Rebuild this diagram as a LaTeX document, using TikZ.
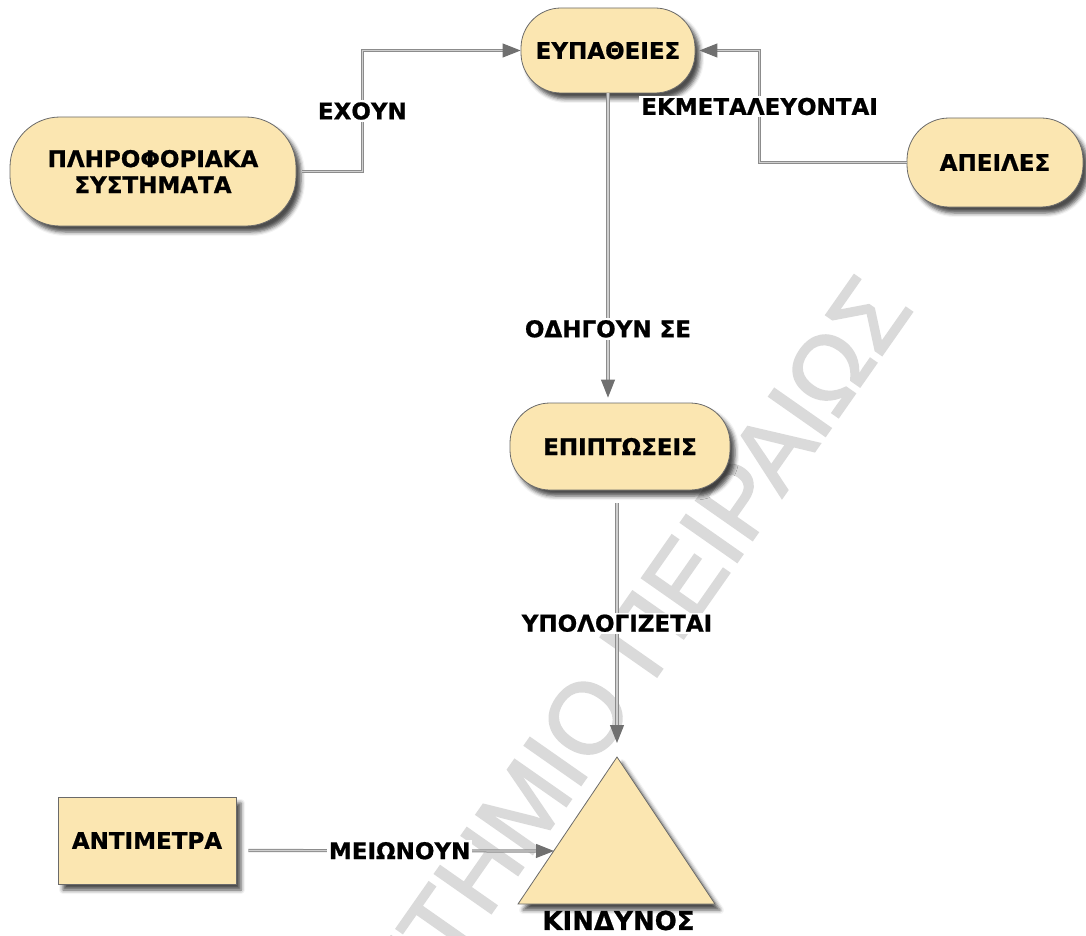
\documentclass[tikz,border=0pt]{standalone}
\usepackage{fontspec}
\setmainfont{DejaVu Sans}[BoldFeatures={FakeBold=0.8}]
\newfontfamily\wmfont[FakeBold=2]{Liberation Sans}
\usetikzlibrary{arrows.meta,shadows,shadows.blur,calc}
\definecolor{nodefill}{HTML}{FBE6B1}
\definecolor{nodeline}{HTML}{6A6A6A}
\definecolor{connout}{HTML}{8C8C8C}
\definecolor{connin}{HTML}{CFCFCF}
\definecolor{tipcol}{HTML}{707070}
\definecolor{wmcol}{HTML}{DADADA}
\begin{document}
\begin{tikzpicture}[x=1pt,y=-1pt,
  every node/.style={font=\fontsize{23}{26}\selectfont\bfseries},
  nshadow/.style={blur shadow={shadow xshift=5pt, shadow yshift=-6pt, shadow blur radius=4pt, shadow opacity=70}},
  term/.style={rectangle, fill=nodefill, draw=nodeline, line width=0.8pt, inner sep=0pt, align=center, nshadow},
  conn/.style={draw=connout, double=connin, double distance=1.2pt, line width=1pt,
    -{Triangle[length=18pt,width=14pt,color=tipcol]}},
  lbl/.style={fill=white, inner sep=2pt},
]
\useasboundingbox (0,0) rectangle (1086,936);
% watermark
\begin{scope}
\clip (0,0) rectangle (1086,936);
\node[rotate=55, anchor=base east, text=wmcol, inner sep=0pt,
  font=\wmfont\fontsize{100}{100}\selectfont] (wm) at (914.5,308.7) {ΠΑΝΕΠΙΣΤΗΜΙΟ ΠΕΙΡΑΙΩΣ};
\end{scope}
% nodes
\node[term, rounded corners=50pt, minimum width=286pt, minimum height=109pt] (plir) at (153,171.5) {ΠΛΗΡΟΦΟΡΙΑΚΑ\\ΣΥΣΤΗΜΑΤΑ};
\node[term, rounded corners=40pt, minimum width=174pt, minimum height=85pt] (eyp) at (608,50.5) {ΕΥΠΑΘΕΙΕΣ};
\node[term, rounded corners=42pt, minimum width=176pt, minimum height=89pt] (apeil) at (995,162.5) {ΑΠΕΙΛΕΣ};
\node[term, rounded corners=40pt, minimum width=220pt, minimum height=87pt] (epip) at (620,446.5) {ΕΠΙΠΤΩΣΕΙΣ};
\node[term, minimum width=178pt, minimum height=87pt] (antim) at (147,840.5) {ΑΝΤΙΜΕΤΡΑ};
% triangle
\path[fill=nodefill, draw=nodeline, line width=0.8pt, nshadow] (617,757) -- (715,904) -- (518,904) -- cycle;
\coordinate (kapex) at (617,757);
\coordinate (kleft) at (554,851);
\node[font=\fontsize{26}{28}\selectfont\bfseries] (kindynos) at (618.5,920.5) {ΚΙΝΔΥΝΟΣ};
% connectors
\draw[conn] ([xshift=6pt]plir.east) -- ++(60,0) |- node[lbl,pos=0.25]{ΕΧΟΥΝ} (eyp.west);
\draw[conn] (apeil.west) -- ++(-147,0) |- node[lbl,pos=0.25]{ΕΚΜΕΤΑΛΕΥΟΝΤΑΙ} ([xshift=4pt]eyp.east);
\draw[conn] (eyp.south) -- node[lbl,pos=0.774]{ΟΔΗΓΟΥΝ ΣΕ} ([yshift=5pt]eyp.south |- epip.north);
\draw[conn] ([yshift=-13pt]epip.south -| kapex) -- node[lbl,pos=0.5]{ΥΠΟΛΟΓΙΖΕΤΑΙ} ([yshift=14pt]kapex);
\draw[conn] ([xshift=12pt,yshift=-10pt]antim.east) -- node[lbl,pos=0.495]{ΜΕΙΩΝΟΥΝ} (kleft);
\end{tikzpicture}
\end{document}
